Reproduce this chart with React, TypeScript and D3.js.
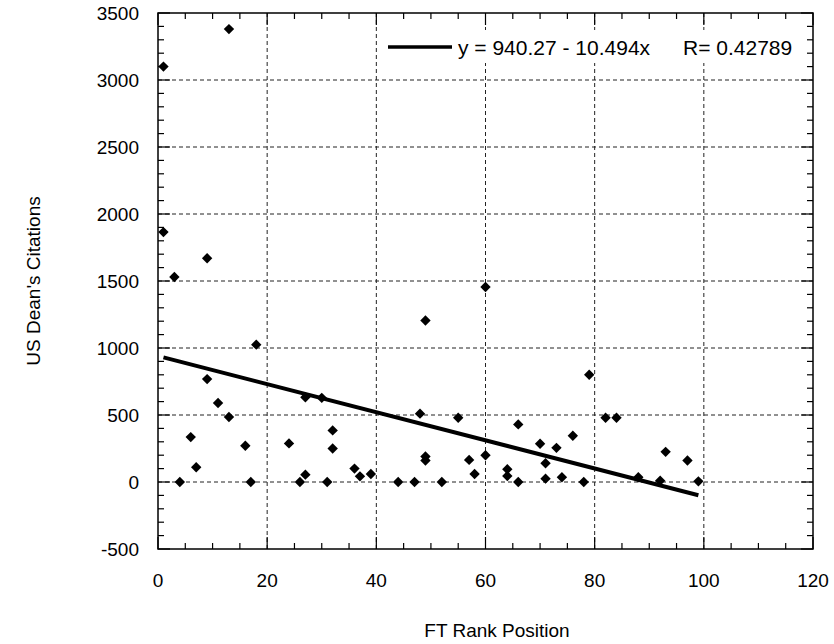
import * as d3 from "d3";
import React, { useEffect, useRef } from "react";

// FT rank position vs. US dean's citations
const ftRank = [
  1, 1, 3, 4, 6, 7, 9, 9, 11, 13, 13, 16, 17, 18, 24, 26, 27, 27, 30, 31, 32,
  32, 36, 37, 39, 44, 47, 48, 49, 49, 49, 52, 55, 57, 58, 60, 60, 64, 64, 66,
  66, 70, 71, 71, 73, 74, 76, 78, 79, 82, 84, 88, 92, 93, 97, 99,
];
const citations = [
  3100, 1865, 1530, 0, 335, 110, 1670, 768, 590, 3380, 485, 270, 0, 1025, 288,
  0, 632, 55, 628, 0, 385, 250, 100, 42, 60, 0, 0, 510, 1205, 190, 160, 0, 480,
  165, 60, 1455, 200, 95, 45, 430, 0, 285, 140, 25, 255, 35, 345, 0, 800, 480,
  480, 35, 10, 225, 160, 5,
];

// linear fit shown in the legend
const fitIntercept = 940.27;
const fitSlope = -10.494;
const fitR = "0.42789";

const xTicks = [0, 20, 40, 60, 80, 100, 120];
const yTicks = [-500, 0, 500, 1000, 1500, 2000, 2500, 3000, 3500];

const App = () => {
  const svgRef = useRef<SVGSVGElement>(null);

  const renderSVG = () => {
    const W = 834;
    const H = 644;
    const plot = { left: 158, right: 813, top: 13, bottom: 549 };
    const font = "Arial, 'Liberation Sans', Helvetica, sans-serif";
    const fs = 19;
    const legendFs = 21;

    const x = d3.scaleLinear([0, 120], [plot.left, plot.right]);
    const y = d3.scaleLinear([-500, 3500], [plot.bottom, plot.top]);

    svgRef.current!.innerHTML = "";
    const svg = d3
      .select(svgRef.current)
      .attr("width", W)
      .attr("height", H)
      .attr("viewBox", [0, 0, W, H])
      .style("position", "absolute")
      .style("left", 0)
      .style("top", 0)
      .style("background", "#fff");

    // grid
    const grid = svg.append("g").attr("stroke", "#222").attr("stroke-width", 1)
      .attr("stroke-dasharray", "4,3").attr("fill", "none");
    xTicks.slice(1, -1).forEach((t) => {
      grid.append("line").attr("x1", x(t)).attr("x2", x(t))
        .attr("y1", plot.top).attr("y2", plot.bottom);
    });
    yTicks.slice(1, -1).forEach((t) => {
      grid.append("line").attr("x1", plot.left).attr("x2", plot.right)
        .attr("y1", y(t)).attr("y2", y(t));
    });

    // minor + major ticks, inside on every side
    const ticks = svg.append("g").attr("stroke", "#000").attr("stroke-width", 1.2);
    const xMinor = d3.range(0, 121, 5);
    const yMinor = d3.range(-500, 3501, 100);
    xMinor.forEach((t) => {
      const len = t % 20 === 0 ? 12 : 6;
      ticks.append("line").attr("x1", x(t)).attr("x2", x(t))
        .attr("y1", plot.bottom).attr("y2", plot.bottom - len);
      ticks.append("line").attr("x1", x(t)).attr("x2", x(t))
        .attr("y1", plot.top).attr("y2", plot.top + len);
    });
    yMinor.forEach((t) => {
      const len = t % 500 === 0 ? 12 : 6;
      ticks.append("line").attr("x1", plot.left).attr("x2", plot.left + len)
        .attr("y1", y(t)).attr("y2", y(t));
      ticks.append("line").attr("x1", plot.right).attr("x2", plot.right - len)
        .attr("y1", y(t)).attr("y2", y(t));
    });

    // frame
    svg.append("rect")
      .attr("x", plot.left).attr("y", plot.top)
      .attr("width", plot.right - plot.left).attr("height", plot.bottom - plot.top)
      .attr("fill", "none").attr("stroke", "#000").attr("stroke-width", 1.5);

    // tick labels
    svg.append("g").selectAll("text").data(xTicks).join("text")
      .attr("x", (d) => x(d)).attr("y", plot.bottom + 38)
      .attr("text-anchor", "middle").attr("font-family", font).attr("font-size", fs)
      .text((d) => d);
    svg.append("g").selectAll("text").data(yTicks).join("text")
      .attr("x", plot.left - 19).attr("y", (d) => y(d)).attr("dy", "0.36em")
      .attr("text-anchor", "end").attr("font-family", font).attr("font-size", fs)
      .text((d) => d);

    // axis titles
    svg.append("text")
      .attr("x", 497).attr("y", 637)
      .attr("text-anchor", "middle").attr("font-family", font).attr("font-size", fs)
      .text("FT Rank Position");
    svg.append("text")
      .attr("transform", `translate(40, ${(plot.top + plot.bottom) / 2}) rotate(-90)`)
      .attr("text-anchor", "middle").attr("font-family", font).attr("font-size", fs)
      .text("US Dean's Citations");

    // legend box (hides grid behind it)
    svg.append("rect").attr("x", 382).attr("y", 30).attr("width", 418).attr("height", 33)
      .attr("fill", "#fff");
    svg.append("line").attr("x1", 388).attr("x2", 452).attr("y1", 47).attr("y2", 47)
      .attr("stroke", "#000").attr("stroke-width", 3.5);
    svg.append("text").attr("x", 458).attr("y", 55)
      .attr("font-family", font).attr("font-size", legendFs)
      .text(`y = ${fitIntercept} - ${Math.abs(fitSlope)}x`);
    svg.append("text").attr("x", 683).attr("y", 55)
      .attr("font-family", font).attr("font-size", legendFs)
      .text(`R= ${fitR}`);

    // points
    const pts = ftRank.map((r, i) => [r, citations[i]] as [number, number]);
    const diamond = d3.symbol(d3.symbolSquare, 54);
    svg.append("g").selectAll("path").data(pts).join("path")
      .attr("d", diamond)
      .attr("transform", (d) => `translate(${x(d[0])}, ${y(d[1])}) rotate(45)`)
      .attr("fill", "#000");

    // fit line over the data range
    const [xMin, xMax] = d3.extent(ftRank) as [number, number];
    const fit = d3.line<number>().x((d) => x(d)).y((d) => y(fitIntercept + fitSlope * d));
    svg.append("path").attr("d", fit([xMin, xMax]))
      .attr("stroke", "#000").attr("stroke-width", 4).attr("fill", "none");
  };

  useEffect(() => {
    renderSVG();
  });

  return <svg ref={svgRef} />;
};

export default App;
